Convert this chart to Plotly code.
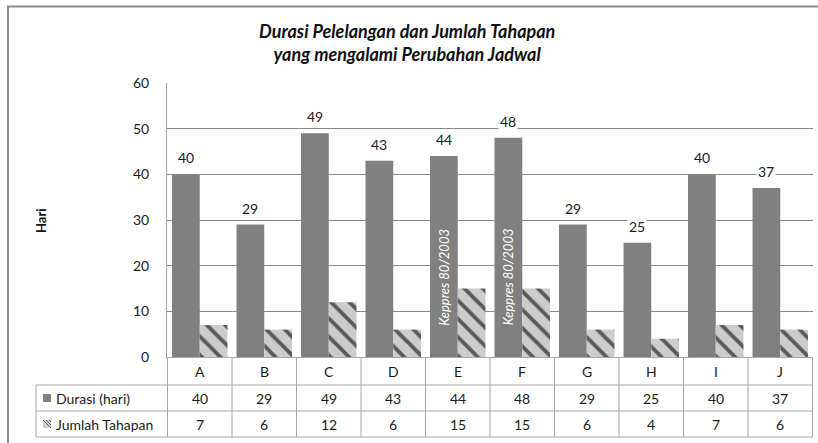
import plotly.graph_objects as go

# ---------------- data ----------------
categories = ["A", "B", "C", "D", "E", "F", "G", "H", "I", "J"]
durasi = [40, 29, 49, 43, 44, 48, 29, 25, 40, 37]
jumlah = [7, 6, 12, 6, 15, 15, 6, 4, 7, 6]
series_names = ["Durasi (hari)", "Jumlah Tahapan"]
keppres_categories = ["E", "F"]
keppres_label = "Keppres 80/2003"
y_ticks = [0, 10, 20, 30, 40, 50, 60]
title_lines = ["Durasi Pelelangan dan Jumlah Tahapan", "yang mengalami Perubahan Jadwal"]
y_title = "Hari"

# ---------------- layout helpers ----------------
W, H = 818, 443
L, R, T, B = 167, 5, 83, 86
PW = W - L - R
PH = H - T - B
FONT = "Lato"
GRID = "#8a8a8a"
TABLE = "#a6a6a6"
DARK = "#808080"
BARGAP = 0.14


def px(xp):
    return (xp - L) / PW


def py(yp):
    return (H - B - yp) / PH


fig = go.Figure()
fig.add_trace(go.Bar(
    x=categories, y=durasi, name=series_names[0],
    marker=dict(color=DARK, line=dict(width=0)), showlegend=False,
))
fig.add_trace(go.Bar(
    x=categories, y=jumlah, name=series_names[1],
    marker=dict(
        color="#c4c4c4", line=dict(width=0),
        pattern=dict(shape="\\", fgcolor="#5a5a5a", bgcolor="#cccccc",
                     size=13, solidity=0.3, fillmode="replace"),
    ),
    showlegend=False,
))

shapes = []
annotations = []

# outer frame (left + top)
shapes.append(dict(type="line", xref="paper", yref="paper",
                   x0=px(8), x1=px(8), y0=py(6), y1=py(450),
                   line=dict(color="#8c8c8c", width=2)))
shapes.append(dict(type="line", xref="paper", yref="paper",
                   x0=px(7), x1=px(830), y0=py(6.5), y1=py(6.5),
                   line=dict(color="#8c8c8c", width=2)))

# data table grid
n = len(categories)
for i in range(n + 1):
    shapes.append(dict(type="line", xref="x", yref="paper",
                       x0=i - 0.5, x1=i - 0.5, y0=py(357), y1=py(437),
                       line=dict(color=TABLE, width=1)))
shapes.append(dict(type="line", xref="paper", yref="paper",
                   x0=px(36), x1=px(36), y0=py(385), y1=py(437),
                   line=dict(color=TABLE, width=1)))
for yp in (385, 411, 437):
    shapes.append(dict(type="line", xref="paper", yref="paper",
                       x0=px(36), x1=1, y0=py(yp), y1=py(yp),
                       line=dict(color=TABLE, width=1)))

# table text
tfont = dict(family=FONT, size=14, color="#1a1a1a")
for c, d, j in zip(categories, durasi, jumlah):
    for txt, yp in ((c, 371), (str(d), 398), (str(j), 424)):
        annotations.append(dict(x=c, y=py(yp), xref="x", yref="paper", text=txt,
                                xanchor="center", yanchor="middle",
                                showarrow=False, font=tfont))

# legend cells
for name, yp in zip(series_names, (398, 424)):
    annotations.append(dict(x=px(54), y=py(yp), xref="paper", yref="paper",
                            text=name, xanchor="left", yanchor="middle",
                            showarrow=False, font=tfont))
shapes.append(dict(type="rect", xref="paper", yref="paper",
                   x0=px(43), x1=px(51), y0=py(394), y1=py(402),
                   fillcolor=DARK, line=dict(width=0)))
shapes.append(dict(type="rect", xref="paper", yref="paper",
                   x0=px(43), x1=px(51), y0=py(420), y1=py(428),
                   fillcolor="#d0d0d0", line=dict(width=0)))
for a in (0, 3, 6):
    shapes.append(dict(type="line", xref="paper", yref="paper",
                       x0=px(43 + a), x1=px(51), y0=py(420), y1=py(428 - a),
                       line=dict(color="#606060", width=1)))

# value labels above Durasi bars
shift = -(1 - BARGAP) / 4 * PW / n
for c, d in zip(categories, durasi):
    annotations.append(dict(x=c, y=d, xref="x", yref="y", text=str(d),
                            xshift=shift, yshift=6, xanchor="center", yanchor="bottom",
                            showarrow=False, bgcolor="white", borderpad=1,
                            font=dict(family=FONT, size=14, color="#1a1a1a")))

# Keppres notes inside bars
for c in keppres_categories:
    annotations.append(dict(x=c, y=py(277), xref="x", yref="paper",
                            text="<i>" + keppres_label + "</i>", textangle=-90,
                            xshift=shift, xanchor="center", yanchor="middle",
                            showarrow=False,
                            font=dict(family=FONT, size=13, color="white")))

# title
annotations.append(dict(x=px(407), y=py(42.5), xref="paper", yref="paper",
                        text="<b><i>" + title_lines[0] + "<br>" + title_lines[1] + "</i></b>",
                        xanchor="center", yanchor="middle",
                        showarrow=False, font=dict(family=FONT, size=18, color="#111")))

# y title
annotations.append(dict(x=px(41), y=py(221), xref="paper", yref="paper",
                        text="<b>" + y_title + "</b>", textangle=-90,
                        xanchor="center", yanchor="middle",
                        showarrow=False, font=dict(family=FONT, size=13, color="#111")))

fig.update_layout(
    width=W, height=H,
    margin=dict(l=L, r=R, t=T, b=B),
    paper_bgcolor="white", plot_bgcolor="white",
    barmode="group", bargap=BARGAP, bargroupgap=0,
    font=dict(family=FONT, size=14, color="#1a1a1a"),
    shapes=shapes, annotations=annotations,
    xaxis=dict(showticklabels=False, showgrid=False, showline=True,
               linecolor=TABLE, linewidth=1, ticks="", zeroline=False),
    yaxis=dict(range=[0, 60], tickvals=y_ticks, showgrid=True, gridcolor=GRID,
               gridwidth=1, showline=True, linecolor=TABLE, linewidth=1,
               zeroline=False, ticks="", ticklabelstandoff=14,
               tickfont=dict(family=FONT, size=14, color="#1a1a1a")),
)

fig.write_html(
    "out.html",
    config={"displayModeBar": False},
    post_script="document.body.style.margin='0';document.body.style.overflow='hidden';",
)
